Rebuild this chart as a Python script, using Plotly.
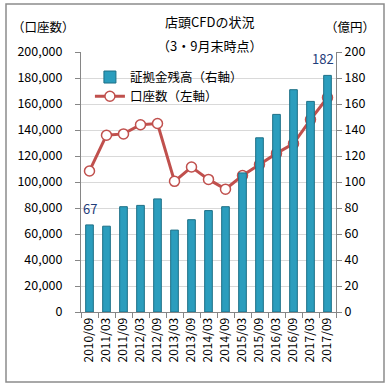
import plotly.graph_objects as go

categories = ["2010/09", "2011/03", "2011/09", "2012/03", "2012/09", "2013/03", "2013/09",
              "2014/03", "2014/09", "2015/03", "2015/09", "2016/03", "2016/09", "2017/03", "2017/09"]
margin_balance = [67, 66, 81, 82, 87, 63, 71, 78, 81, 107, 134, 152, 171, 162, 182]
accounts = [108500, 136000, 137000, 144000, 145000, 100500, 111500, 102000, 94500,
            105000, 113500, 122000, 129500, 148000, 165000]
labelled_idx = [0, 14]

FONT = "Noto Sans CJK JP"

fig = go.Figure()
fig.add_trace(go.Bar(
    x=categories, y=margin_balance, name="証拠金残高（右軸）", yaxis="y2",
    marker=dict(color="#2b9dbd", line=dict(color="#1c6f86", width=1)),
    width=0.45,
))
fig.add_trace(go.Scatter(
    x=categories, y=accounts, name="口座数（左軸）", mode="lines+markers",
    line=dict(color="#c0504d", width=3),
    marker=dict(symbol="circle", size=10, color="white", line=dict(color="#c0504d", width=1.5)),
))

annotations = [
    dict(text="店頭CFDの状況", xref="paper", yref="paper", x=(209 - 81) / 255, y=(312 - 22) / 260,
         xanchor="center", yanchor="middle", showarrow=False, font=dict(size=13)),
    dict(text="（3・9月末時点）", xref="paper", yref="paper", x=(209 - 81) / 255, y=(312 - 45) / 260,
         xanchor="center", yanchor="middle", showarrow=False, font=dict(size=13)),
    dict(text="（口座数）", xref="paper", yref="paper", x=(43 - 81) / 255, y=(312 - 27) / 260,
         xanchor="center", yanchor="middle", showarrow=False, font=dict(size=12.5)),
    dict(text="（億円）", xref="paper", yref="paper", x=(350 - 81) / 255, y=(312 - 27) / 260,
         xanchor="center", yanchor="middle", showarrow=False, font=dict(size=12.5)),
]
for i in labelled_idx:
    annotations.append(dict(
        text=str(margin_balance[i]), x=categories[i], y=margin_balance[i], xref="x", yref="y2",
        xanchor="center", yanchor="bottom", yshift=5, xshift=(0 if i == 0 else -5), showarrow=False,
        font=dict(size=13, color="#1f3d7a")))

fig.update_layout(
    width=390, height=388,
    margin=dict(l=81, r=54, t=52, b=76, autoexpand=False),
    paper_bgcolor="white", plot_bgcolor="white",
    font=dict(family=FONT, size=12, color="#000000"),
    showlegend=True,
    legend=dict(x=0.035, y=0.96, xanchor="left", yanchor="top", bgcolor="rgba(0,0,0,0)",
                traceorder="normal", font=dict(size=12.5), tracegroupgap=0,
                itemwidth=30),
    bargap=0.5,
    xaxis=dict(type="category", range=[-0.5, len(categories) - 0.5], autorange=False,
               showline=True, linecolor="#868686", ticks="outside",
               tickson="boundaries", ticklen=5, tickcolor="#868686", tickangle=-90,
               tickfont=dict(size=12), showgrid=False, mirror=False, automargin=False),
    yaxis=dict(range=[0, 200000], autorange=False, dtick=20000, tickformat=",d", showline=True,
               linecolor="#868686", ticks="outside", ticklen=5, tickcolor="#868686",
               gridcolor="#d9d9d9", zeroline=False, tickfont=dict(size=12.5), automargin=False,
               ticklabelstandoff=10),
    yaxis2=dict(range=[0, 200], autorange=False, dtick=20, overlaying="y", side="right", showline=True,
                linecolor="#868686", ticks="outside", ticklen=5, tickcolor="#868686",
                showgrid=False, zeroline=False, tickfont=dict(size=12.5), automargin=False),
    shapes=[dict(type="rect", xref="paper", yref="paper",
                 x0=(6 - 81) / 255, x1=(384 - 81) / 255,
                 y0=(312 - 382) / 260, y1=(312 - 4) / 260,
                 line=dict(color="#8c8c8c", width=1.5), fillcolor="rgba(0,0,0,0)", layer="below")],
    annotations=annotations,
)

fig.write_html("out.html")
